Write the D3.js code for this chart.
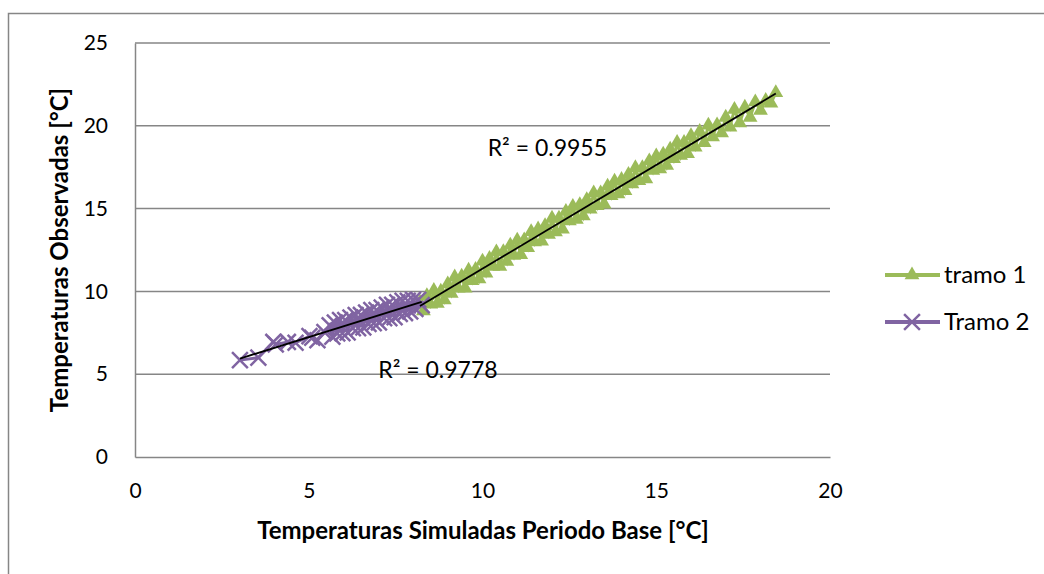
<!DOCTYPE html>
<html><head><meta charset="utf-8">
<script src="https://cdn.jsdelivr.net/npm/d3@7"></script>
<style>body{margin:0;background:#fff}svg{display:block}text{font-family:Lato,"Open Sans",sans-serif;fill:#000}</style>
</head><body><svg id="c" width="1044" height="574"></svg>
<script>
const xTicks = [0, 5, 10, 15, 20];
const yTicks = [0, 5, 10, 15, 20, 25];
const seriesNames = ["tramo 1", "Tramo 2"];
const r2Labels = ["R² = 0.9955", "R² = 0.9778"];
const xTitle = "Temperaturas Simuladas Periodo Base [°C]";
const yTitle = "Temperaturas Observadas [°C]";

const tramo1X = [8.20,8.30,8.40,8.50,8.60,8.70,8.80,8.90,9.00,9.10,9.20,9.30,9.40,9.50,9.60,9.70,9.80,9.90,10.00,10.10,10.20,10.30,10.40,10.50,10.60,10.70,10.80,10.90,11.00,11.10,11.20,11.30,11.40,11.50,11.60,11.70,11.80,11.90,12.00,12.10,12.20,12.30,12.40,12.50,12.60,12.70,12.80,12.90,13.00,13.10,13.20,13.30,13.40,13.50,13.60,13.70,13.80,13.90,14.00,14.10,14.20,14.30,14.40,14.50,14.60,14.70,14.80,14.90,15.00,15.10,15.20,15.30,15.40,15.50,15.60,15.70,15.80,15.90,16.00,16.12,16.25,16.38,16.50,16.62,16.75,16.88,17.00,17.12,17.25,17.40,17.55,17.70,17.85,18.00,18.15,18.30,18.44];
const tramo1Y = [9.34,8.82,9.74,9.22,10.05,9.27,10.00,9.48,10.45,9.88,10.86,10.19,10.91,10.19,11.27,10.64,11.32,10.75,11.82,11.10,11.98,11.51,12.38,11.51,12.39,11.81,12.79,12.17,13.09,12.22,13.10,12.63,13.60,12.98,13.76,13.03,13.96,13.44,14.41,13.59,14.42,13.75,14.82,14.25,15.13,14.35,15.23,14.56,15.53,14.96,15.94,15.17,15.94,15.27,16.35,15.77,16.65,15.88,16.75,16.08,17.06,16.49,17.46,16.69,17.47,16.79,17.87,17.30,18.17,17.40,18.28,17.61,18.58,18.01,18.99,18.21,18.99,18.32,19.39,18.70,19.66,18.98,20.03,19.33,20.05,19.56,20.51,19.92,20.98,20.17,21.11,20.50,21.44,20.93,21.52,21.36,21.99];

const tramo2X = [3.02,3.55,3.98,4.05,4.40,4.62,5.02,5.10,5.25,5.45,5.60,5.68,5.75,5.82,5.90,5.97,6.05,6.12,6.20,6.27,6.35,6.42,6.50,6.57,6.65,6.72,6.80,6.87,6.95,7.02,7.10,7.17,7.25,7.32,7.40,7.47,7.55,7.62,7.70,7.77,7.85,7.92,8.00,8.07,8.15,8.25];
const tramo2Y = [5.85,6.00,6.95,6.80,6.95,6.90,7.30,7.20,7.05,7.55,7.96,7.27,8.12,7.46,8.27,7.47,8.27,7.52,8.42,7.77,8.57,7.77,8.58,7.82,8.73,8.03,8.88,8.08,8.88,8.13,9.03,8.38,9.19,8.38,9.19,8.44,9.34,8.64,9.44,8.69,9.44,8.79,9.50,8.94,9.50,9.17];

const green = "#9BBB59", purple = "#8064A2", grid = "#868686";
const svg = d3.select("#c");
const L = 135, R = 830, T = 43, B = 457;
const x = d3.scaleLinear().domain([0, 20]).range([L, R]);
const y = d3.scaleLinear().domain([0, 25]).range([B, T]);

svg.append("rect").attr("x", 8.5).attr("y", 13.5).attr("width", 1100).attr("height", 600)
  .attr("fill", "none").attr("stroke", grid).attr("stroke-width", 1.5);

svg.append("g").selectAll("line").data(yTicks.filter(d => d > 0)).join("line")
  .attr("x1", L).attr("x2", R).attr("y1", d => y(d)).attr("y2", d => y(d))
  .attr("stroke", grid).attr("stroke-width", 1.5);

const yAxis = svg.append("g").attr("transform", `translate(${L},0)`)
  .call(d3.axisLeft(y).tickValues(yTicks).tickSize(0).tickPadding(27));
const xAxis = svg.append("g").attr("transform", `translate(0,${B})`)
  .call(d3.axisBottom(x).tickValues(xTicks).tickSize(0).tickPadding(26));
[yAxis, xAxis].forEach(a => {
  a.select(".domain").attr("stroke", grid).attr("stroke-width", 1.5);
  a.selectAll("text").style("font-family", "Lato, sans-serif").style("font-size", "21px").attr("fill", "#000");
});

const line = d3.line().x(d => x(d[0])).y(d => y(d[1]));
const tri = d3.symbol(d3.symbolTriangle).size(95);
const cross = d3.symbol(d3.symbolX).size(165);

const s1 = tramo1X.map((v, i) => [v, tramo1Y[i]]);
const s2 = tramo2X.map((v, i) => [v, tramo2Y[i]]);

svg.append("path").datum(s1).attr("d", line).attr("fill", "none").attr("stroke", green).attr("stroke-width", 3);
svg.append("g").selectAll("path").data(s1).join("path")
  .attr("transform", d => `translate(${x(d[0])},${y(d[1])})`).attr("d", tri).attr("fill", green);

svg.append("path").datum(s2).attr("d", line).attr("fill", "none").attr("stroke", purple).attr("stroke-width", 3);
svg.append("g").selectAll("path").data(s2).join("path")
  .attr("transform", d => `translate(${x(d[0])},${y(d[1])})`).attr("d", cross)
  .attr("fill", "none").attr("stroke", purple).attr("stroke-width", 2.5);

function fit(pts) {
  const mx = d3.mean(pts, d => d[0]), my = d3.mean(pts, d => d[1]);
  const b = d3.sum(pts, d => (d[0] - mx) * (d[1] - my)) / d3.sum(pts, d => (d[0] - mx) ** 2);
  const a = my - b * mx;
  const [x0, x1] = d3.extent(pts, d => d[0]);
  return [[x0, a + b * x0], [x1, a + b * x1]];
}
[s1, s2].forEach(s => {
  svg.append("path").datum(fit(s)).attr("d", line).attr("fill", "none").attr("stroke", "#000").attr("stroke-width", 1.8);
});

svg.append("text").attr("x", x(10.15)).attr("y", y(18.2)).attr("font-size", 23).text(r2Labels[0]);
svg.append("text").attr("x", x(7.0)).attr("y", y(4.75)).attr("font-size", 23).text(r2Labels[1]);

svg.append("text").attr("x", 483).attr("y", 539).attr("text-anchor", "middle")
  .attr("font-size", 24).attr("font-weight", "bold").text(xTitle);
svg.append("text").attr("transform", "translate(68,250) rotate(-90)").attr("text-anchor", "middle")
  .attr("font-size", 24).attr("font-weight", "bold").text(yTitle);

const leg = svg.append("g");
seriesNames.forEach((n, i) => {
  const ly = 275 + i * 47, col = i === 0 ? green : purple;
  leg.append("line").attr("x1", 885).attr("x2", 940).attr("y1", ly).attr("y2", ly).attr("stroke", col).attr("stroke-width", 4);
  const m = leg.append("path").attr("transform", `translate(912,${ly})`).attr("d", i === 0 ? tri() : cross());
  if (i === 0) m.attr("fill", col); else m.attr("fill", "none").attr("stroke", col).attr("stroke-width", 2.5);
  leg.append("text").attr("x", 944).attr("y", ly).attr("dy", "0.35em").attr("font-size", 24).text(n);
});
</script></body></html>
